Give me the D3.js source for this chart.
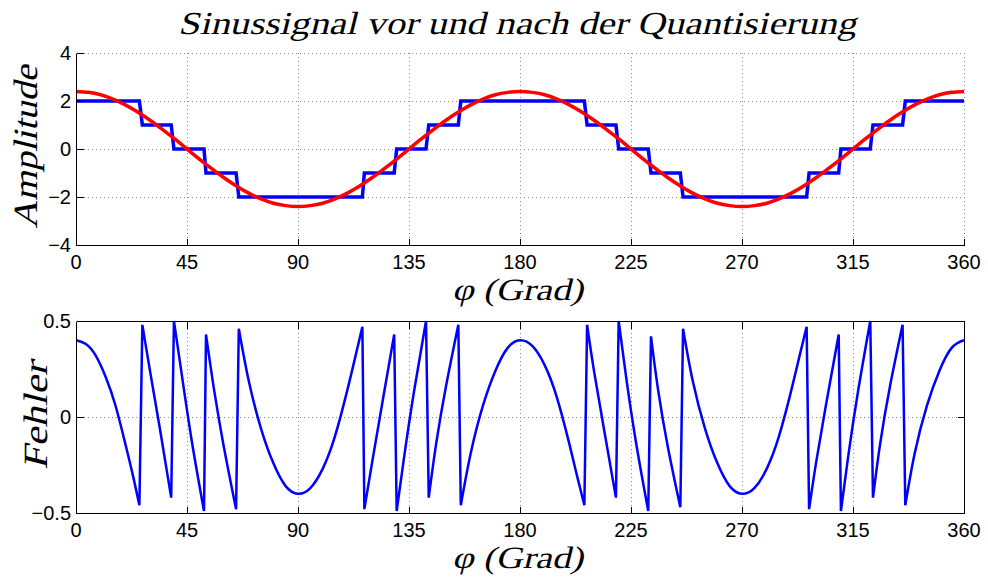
<!DOCTYPE html>
<html>
<head>
<meta charset="utf-8">
<script src="https://cdn.jsdelivr.net/npm/d3@7"></script>
<style>
  html, body { margin: 0; padding: 0; background: #fff; }
  svg { display: block; }
  .tick-label { font-family: "Liberation Sans", Arial, Helvetica, sans-serif; font-size: 20px; fill: #000; }
  .tex { font-family: "Liberation Serif", "DejaVu Serif"; font-style: normal; fill: #000; }
</style>
</head>
<body>
<svg id="chart" width="988" height="579"></svg>
<script>
// ---- texts ----
const titleText = "Sinussignal vor und nach der Quantisierung";
const xLabelText = "φ (Grad)";
const yLabelTop = "Amplitude";
const yLabelBottom = "Fehler";

// ---- ticks ----
const xTicks = [0, 45, 90, 135, 180, 225, 270, 315, 360];
const yTicksTop = [-4, -2, 0, 2, 4];
const yTicksBottom = [-0.5, 0, 0.5];

// ---- input signal (degrees / amplitude) ----
const signalPhi = [0, 5, 10, 15, 20, 25, 30, 35, 40, 45, 50, 55, 60, 65, 70, 75, 80, 85, 90,
  95, 100, 105, 110, 115, 120, 125, 130, 135, 140, 145, 150, 155, 160, 165, 170, 175, 180,
  185, 190, 195, 200, 205, 210, 215, 220, 225, 230, 235, 240, 245, 250, 255, 260, 265, 270,
  275, 280, 285, 290, 295, 300, 305, 310, 315, 320, 325, 330, 335, 340, 345, 350, 355, 360];
const signalValues = [2.40, 2.36, 2.26, 2.08, 1.84, 1.54, 1.20, 0.82, 0.42, 0.00, -0.42, -0.82, -1.20, -1.54, -1.84, -2.08, -2.26, -2.36, -2.40,
  -2.36, -2.26, -2.08, -1.84, -1.54, -1.20, -0.82, -0.42, 0.00, 0.42, 0.82, 1.20, 1.54, 1.84, 2.08, 2.26, 2.36, 2.40,
  2.36, 2.26, 2.08, 1.84, 1.54, 1.20, 0.82, 0.42, 0.00, -0.42, -0.82, -1.20, -1.54, -1.84, -2.08, -2.26, -2.36, -2.40,
  -2.36, -2.26, -2.08, -1.84, -1.54, -1.20, -0.82, -0.42, 0.00, 0.42, 0.82, 1.20, 1.54, 1.84, 2.08, 2.26, 2.36, 2.40];

// ---- quantized signal (samples on both sides of each step) ----
const quantPhi = [0, 25.7, 26.9, 38.6, 39.7, 51.9, 52.7, 64.9, 66.0, 116.1, 116.9, 129.0, 130.0, 141.9, 143.0, 155.0, 156.0,
  206.1, 207.2, 218.9, 220.0, 232.0, 233.1, 245.0, 246.1, 296.2, 297.2, 309.2, 310.1, 322.0, 323.1, 335.1, 336.2, 360];
const quantValues = [2, 2, 1, 1, 0, 0, -1, -1, -2, -2, -1, -1, 0, 0, 1, 1, 2,
  2, 1, 1, 0, 0, -1, -1, -2, -2, -1, -1, 0, 0, 1, 1, 2, 2];

// ---- quantization error ----
const errorPhi = [0, 4, 8, 12, 16, 20, 23, 25.7,
  26.9, 30, 34, 38.6,
  39.7, 43, 47, 51.9,
  52.7, 56, 60, 64.9,
  66.0, 70, 75, 80, 85, 90, 95, 100, 105, 110, 113, 116.1,
  116.9, 120, 124, 129.0,
  130.0, 133, 137, 141.9,
  143.0, 146, 150, 155.0,
  156.0, 160, 165, 170, 175, 180, 185, 190, 195, 200, 203, 206.1,
  207.2, 210, 214, 218.9,
  220.0, 223, 227, 232.0,
  233.1, 236, 240, 245.0,
  246.1, 250, 255, 260, 265, 270, 275, 280, 285, 290, 293, 296.2,
  297.2, 300, 304, 309.2,
  310.1, 313, 317, 322.0,
  323.1, 326, 330, 335.1,
  336.2, 340, 345, 350, 355, 360];
const errorValues = [0.40, 0.38, 0.32, 0.21, 0.06, -0.14, -0.30, -0.46,
  0.48, 0.24, -0.06, -0.42,
  0.50, 0.21, -0.13, -0.49,
  0.43, 0.14, -0.16, -0.48,
  0.46, 0.19, -0.06, -0.24, -0.36, -0.40, -0.37, -0.27, -0.10, 0.14, 0.30, 0.47,
  -0.48, -0.24, 0.06, 0.43,
  -0.49, -0.21, 0.13, 0.50,
  -0.42, -0.14, 0.16, 0.48,
  -0.46, -0.19, 0.06, 0.24, 0.36, 0.40, 0.37, 0.27, 0.10, -0.14, -0.30, -0.46,
  0.48, 0.24, -0.06, -0.42,
  0.50, 0.21, -0.13, -0.49,
  0.42, 0.14, -0.16, -0.47,
  0.46, 0.19, -0.06, -0.24, -0.36, -0.40, -0.37, -0.27, -0.10, 0.14, 0.30, 0.47,
  -0.48, -0.24, 0.06, 0.43,
  -0.49, -0.21, 0.13, 0.50,
  -0.42, -0.14, 0.16, 0.48,
  -0.46, -0.19, 0.06, 0.24, 0.36, 0.40];

// ---- layout ----
const svg = d3.select("#chart");
const left = 76, right = 964;
const top1 = { y0: 53, y1: 245 };
const top2 = { y0: 321, y1: 513 };
const tickLen = 7;
const gridColor = "#8a8a8a";
const slant = "skewX(-14)";

const x = d3.scaleLinear().domain([0, 360]).range([left, right]);
const yTop = d3.scaleLinear().domain([-4, 4]).range([top1.y1, top1.y0]);
const yBot = d3.scaleLinear().domain([-0.5, 0.5]).range([top2.y1, top2.y0]);

const fmt = v => {
  const s = (Math.abs(v) === 0.5) ? "0.5" : String(Math.abs(v));
  return v < 0 ? "\u2212" + s : s;
};

const zip = (a, b) => a.map((v, i) => [v, b[i]]);

function panel(y, yTicks, name) {
  const g = svg.append("g");
  const [yb, yt] = y.range();

  // dotted grid
  const grid = g.append("g").attr("stroke", gridColor).attr("stroke-width", 1)
    .attr("stroke-dasharray", "1,3").attr("shape-rendering", "crispEdges");
  xTicks.forEach(t => grid.append("line")
    .attr("x1", Math.round(x(t)) + 0.5).attr("x2", Math.round(x(t)) + 0.5)
    .attr("y1", yt).attr("y2", yb));
  yTicks.forEach(t => grid.append("line")
    .attr("x1", left).attr("x2", right)
    .attr("y1", Math.round(y(t)) + 0.5).attr("y2", Math.round(y(t)) + 0.5));

  // clip for data lines
  const id = "clip" + name;
  svg.append("clipPath").attr("id", id).append("rect")
    .attr("x", left).attr("y", yt - 2).attr("width", right - left).attr("height", yb - yt + 4);
  const data = g.append("g").attr("clip-path", `url(#${id})`);

  return { g, data, yb, yt };
}

function axes(p, y, yTicks, boxed) {
  const { g, yb, yt } = p;
  const ax = g.append("g").attr("stroke", "#000").attr("stroke-width", 1)
    .attr("shape-rendering", "crispEdges").attr("fill", "none");
  const L = left + 0.5, B = Math.round(yb) + 0.5, T = Math.round(yt) + 0.5, R = right + 0.5;
  ax.append("line").attr("x1", L).attr("x2", L).attr("y1", T).attr("y2", B);
  ax.append("line").attr("x1", L).attr("x2", R).attr("y1", B).attr("y2", B);
  if (boxed) {
    ax.append("line").attr("x1", R).attr("x2", R).attr("y1", T).attr("y2", B);
    ax.append("line").attr("x1", L).attr("x2", R).attr("y1", T).attr("y2", T);
  }
  xTicks.forEach(t => {
    const xx = Math.round(x(t)) + 0.5;
    ax.append("line").attr("x1", xx).attr("x2", xx).attr("y1", B).attr("y2", B - tickLen);
    if (boxed) ax.append("line").attr("x1", xx).attr("x2", xx).attr("y1", T).attr("y2", T + tickLen);
  });
  yTicks.forEach(t => {
    const yy = Math.round(y(t)) + 0.5;
    ax.append("line").attr("x1", L).attr("x2", L + tickLen).attr("y1", yy).attr("y2", yy);
    if (boxed) ax.append("line").attr("x1", R).attr("x2", R - tickLen).attr("y1", yy).attr("y2", yy);
  });

  // tick labels
  g.append("g").selectAll("text").data(xTicks).join("text")
    .attr("class", "tick-label").attr("text-anchor", "middle")
    .attr("x", d => x(d)).attr("y", yb + 24).text(d => fmt(d));
  g.append("g").selectAll("text").data(yTicks).join("text")
    .attr("class", "tick-label").attr("text-anchor", "end")
    .attr("x", left - 5).attr("y", d => y(d) + 7).text(d => fmt(d));
}

// ---- upper panel: signal and quantized signal ----
const p1 = panel(yTop, yTicksTop, "Top");
p1.data.append("path")
  .datum(zip(quantPhi, quantValues))
  .attr("fill", "none").attr("stroke", "#0000ff").attr("stroke-width", 3.5)
  .attr("d", d3.line().x(d => x(d[0])).y(d => yTop(d[1])));
p1.data.append("path")
  .datum(zip(signalPhi, signalValues))
  .attr("fill", "none").attr("stroke", "#ff0000").attr("stroke-width", 3.5)
  .attr("d", d3.line().curve(d3.curveNatural).x(d => x(d[0])).y(d => yTop(d[1])));
axes(p1, yTop, yTicksTop, false);

// ---- lower panel: quantization error ----
// Smooth pieces between the jumps, joined by straight jump lines.
const errPts = zip(errorPhi, errorValues);
const pieces = [];
errPts.forEach((pt, i) => {
  if (i === 0 || Math.abs(pt[1] - errPts[i - 1][1]) > 0.6) pieces.push([]);
  pieces[pieces.length - 1].push(pt);
});
const smooth = d3.line().curve(d3.curveNatural).x(d => x(d[0])).y(d => yBot(d[1]));
const errPath = pieces.map((seg, i) => {
  const s = smooth(seg);
  return i === 0 ? s : "L" + s.slice(1);
}).join("");

const p2 = panel(yBot, yTicksBottom, "Bottom");
p2.data.append("path")
  .attr("fill", "none").attr("stroke", "#0000ff").attr("stroke-width", 2.5)
  .attr("stroke-linejoin", "miter").attr("stroke-miterlimit", 6)
  .attr("d", errPath);
axes(p2, yBot, yTicksBottom, true);

// ---- labels (slanted serif) ----
function texLabel(tx, ty, rot, size, len, str) {
  svg.append("g").attr("transform", `translate(${tx},${ty}) rotate(${rot}) ${slant}`)
    .append("text").attr("class", "tex")
    .attr("x", 0).attr("y", 0).attr("text-anchor", "middle")
    .attr("font-size", size).attr("textLength", len).attr("lengthAdjust", "spacingAndGlyphs")
    .text(str);
}
texLabel(517, 34, 0, 32, 678, titleText);
texLabel(517.5, 300, 0, 31, 131, xLabelText);
texLabel(517.5, 568, 0, 31, 131, xLabelText);
texLabel(37, 147, -90, 34, 163, yLabelTop);
texLabel(47, 416, -90, 34, 108, yLabelBottom);
</script>
</body>
</html>
